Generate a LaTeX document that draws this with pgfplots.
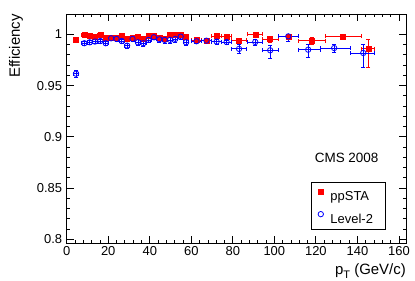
\documentclass[border=0pt]{standalone}
\usepackage{pgfplots}
\pgfplotsset{compat=1.18}
\usepackage{pgfplotstable}
\usepackage{fontspec}
\setmainfont{Liberation Sans}

\pgfplotstableread{
x y exm exp eym eyp
4.5 0.9952 1.3 1.3 0.0012 0.0010
8.5 0.9993 1.25 1.25 0.0008 0.0005
11.1 0.9984 1.25 1.25 0.0010 0.0008
13.6 0.9977 1.25 1.25 0.0010 0.0008
16.2 0.9993 1.25 1.25 0.0008 0.0005
18.8 0.9967 1.25 1.25 0.0012 0.0010
21.4 0.9971 1.25 1.25 0.0012 0.0010
24.0 0.9971 1.25 1.25 0.0012 0.0010
26.5 0.9984 1.25 1.25 0.0010 0.0008
29.1 0.9961 1.25 1.25 0.0012 0.0010
31.7 0.9971 1.25 1.25 0.0012 0.0010
34.3 0.9977 1.25 1.25 0.0012 0.0010
36.9 0.9961 1.25 1.25 0.0012 0.0010
39.4 0.9984 1.25 1.25 0.0010 0.0008
42.0 0.9990 1.25 1.25 0.0010 0.0007
44.6 0.9967 1.25 1.25 0.0012 0.0010
47.2 0.9961 1.25 1.25 0.0012 0.0010
49.8 0.9997 1.25 1.25 0.0008 0.0003
52.3 1.0000 1.25 1.25 0.0008 0.0000
54.9 0.9993 1.25 1.25 0.0008 0.0005
57.5 0.9977 1.25 1.25 0.0012 0.0010
62.5 0.9945 2.5 2.5 0.0015 0.0012
67.3 0.9938 2.5 2.5 0.0015 0.0012
72.2 0.9984 2.5 2.5 0.0012 0.0008
77.0 0.9980 2.5 2.5 0.0015 0.0010
83.0 0.9942 3.6 3.7 0.0025 0.0020
90.8 1.0000 3.7 3.4 0.0020 0.0005
98.0 0.9954 3.8 3.9 0.0035 0.0025
106.7 0.9980 4.8 4.8 0.0030 0.0015
118.0 0.9938 6.5 6.4 0.0040 0.0030
132.7 0.9980 8.3 9.3 0.0030 0.0015
145.2 0.9860 3.2 3.2 0.0182 0.0087
}\redtab

\pgfplotstableread{
x y exm exp eym eyp
4.5 0.9616 1.3 1.3 0.0032 0.0030
8.5 0.9913 1.25 1.25 0.0020 0.0018
11.1 0.9922 1.25 1.25 0.0020 0.0018
13.6 0.9929 1.25 1.25 0.0020 0.0018
16.2 0.9935 1.25 1.25 0.0020 0.0018
18.8 0.9913 1.25 1.25 0.0022 0.0020
21.4 0.9961 1.25 1.25 0.0020 0.0015
24.0 0.9955 1.25 1.25 0.0020 0.0015
26.5 0.9935 1.25 1.25 0.0022 0.0020
29.1 0.9890 1.25 1.25 0.0028 0.0025
31.7 0.9955 1.25 1.25 0.0022 0.0018
34.3 0.9922 1.25 1.25 0.0030 0.0025
36.9 0.9913 1.25 1.25 0.0028 0.0025
39.4 0.9945 1.25 1.25 0.0025 0.0020
42.0 0.9971 1.25 1.25 0.0022 0.0015
44.6 0.9951 1.25 1.25 0.0028 0.0020
47.2 0.9945 1.25 1.25 0.0030 0.0022
49.8 0.9945 1.25 1.25 0.0030 0.0022
52.3 0.9955 1.25 1.25 0.0030 0.0022
54.9 0.9977 1.25 1.25 0.0025 0.0015
57.5 0.9922 1.25 1.25 0.0035 0.0028
62.5 0.9932 2.5 2.5 0.0025 0.0020
67.3 0.9938 2.5 2.5 0.0025 0.0020
72.2 0.9929 2.5 2.5 0.0025 0.0020
77.0 0.9925 2.5 2.5 0.0025 0.0020
83.0 0.9858 3.6 3.7 0.0045 0.0045
90.8 0.9925 3.7 3.4 0.0030 0.0030
98.0 0.9844 3.8 3.9 0.0082 0.0050
106.7 0.9980 4.8 4.8 0.0045 0.0015
116.3 0.9850 4.8 5.7 0.0080 0.0053
128.8 0.9866 6.8 7.6 0.0040 0.0040
142.8 0.9818 6.4 5.6 0.0142 0.0085
}\bluetab

\begin{document}
\begin{tikzpicture}
\begin{axis}[
  name=ax, at={(0,0)}, anchor=south west,
  scale only axis, width=339.3bp, height=229.5bp,
  xmin=0, xmax=163.4, ymin=0.796, ymax=1.0198,
  axis line style={line width=0.8bp},
  every tick/.style={black, line width=0.8bp},
  major tick length=7bp, minor tick length=3.5bp,
  tick align=inside,
  xtick={0,20,40,60,80,100,120,140,160},
  ytick={0.8,0.85,0.9,0.95,1},
  minor x tick num=4, minor y tick num=4,
  font=\fontsize{13}{15}\selectfont,
  /pgf/number format/assume math mode=true,
  yticklabel style={anchor=east, inner sep=0pt, xshift=-4.4bp, /pgf/number format/fixed},
  xticklabel style={anchor=base, inner sep=0pt, yshift=-11.5bp},
  ylabel={Efficiency},
  ylabel style={at={(axis description cs:-0.128,1)}, anchor=south east, inner sep=0pt, font=\fontsize{15}{17}\selectfont},
  xlabel={p\raisebox{-4.5bp}{\fontsize{11}{13}\selectfont T} (GeV/c)},
  xlabel style={at={(axis description cs:1,-0.1329)}, anchor=base east, inner sep=0pt, font=\fontsize{15}{17}\selectfont},
  legend style={at={(axis description cs:0.7191,0.2667)}, anchor=north west,
    draw=black, line width=0.8bp, inner xsep=7bp, inner ysep=6.3bp,
    row sep=10.7bp, column sep=7bp,
    nodes={inner sep=0pt, text height=9.3bp, text depth=0bp},
    font=\fontsize{13}{15}\selectfont},
  legend cell align=left,
  legend image code/.code={\draw[#1] plot coordinates {(0bp,4.6bp)};},
]
\addplot[only marks, mark=square*, red, mark options={draw=red, fill=red, mark size=2.5bp},
  error bars/.cd, x dir=both, x explicit, y dir=both, y explicit,
  error bar style={line width=0.8bp, red},
  error mark options={rotate=90, mark size=2bp, line width=0.8bp, red}]
  table[x=x, y=y, x error minus=exm, x error plus=exp, y error minus=eym, y error plus=eyp] {\redtab};
\addlegendentry{\makebox[48bp][l]{ppSTA}}
\addplot[only marks, mark=o, blue, mark options={draw=blue, mark size=2.7bp, line width=0.8bp},
  error bars/.cd, x dir=both, x explicit, y dir=both, y explicit,
  error bar style={line width=0.8bp, blue},
  error mark options={rotate=90, mark size=2bp, line width=0.8bp, blue}]
  table[x=x, y=y, x error minus=exm, x error plus=exp, y error minus=eym, y error plus=eyp] {\bluetab};
\addlegendentry{\makebox[48bp][l]{Level-2}}
\node[anchor=base, font=\fontsize{13.5}{15}\selectfont] at (axis cs:134.8,0.8749) {CMS 2008};
\end{axis}
\pgfresetboundingbox
\path[use as bounding box] ([shift={(-66.7bp,-37.5bp)}]ax.south west) rectangle ([shift={(9bp,14bp)}]ax.north east);
\end{tikzpicture}
\end{document}
